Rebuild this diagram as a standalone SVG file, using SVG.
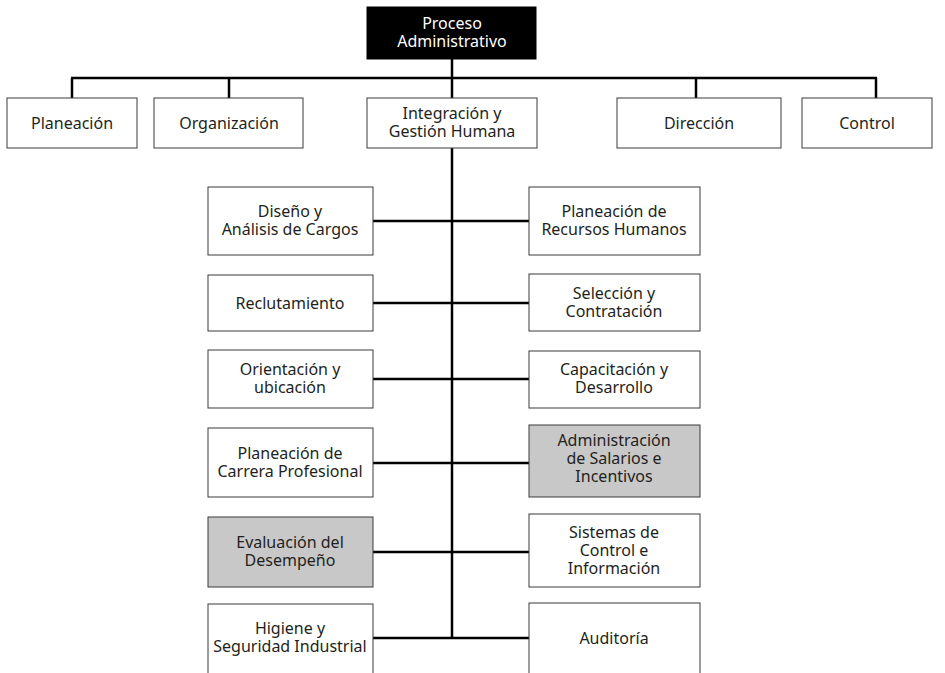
<svg xmlns="http://www.w3.org/2000/svg" width="945" height="673" viewBox="0 0 945 673">
  <style>
    .box { fill: #ffffff; stroke: #3a3a3a; stroke-width: 1; }
    .gray { fill: #c8c8c8; stroke: #3a3a3a; stroke-width: 1; }
    .root { fill: #000000; stroke: #000000; stroke-width: 1; }
    .lbl { font-family: "Noto Sans", "Open Sans", sans-serif; font-size: 16px; fill: #231f20; text-anchor: middle; }
    .lblw { font-family: "Noto Sans", "Open Sans", sans-serif; font-size: 16px; fill: #ffffff; text-anchor: middle; }
    .wire { stroke: #000000; stroke-width: 2.5; fill: none; }
  </style>
  <rect width="945" height="673" fill="#ffffff"/>

  <!-- connectors -->
  <g id="connectors">
    <line class="wire" x1="452" y1="59" x2="452" y2="98"/>
    <line class="wire" x1="71" y1="78" x2="877" y2="78"/>
    <line class="wire" x1="72" y1="78" x2="72" y2="98"/>
    <line class="wire" x1="229" y1="78" x2="229" y2="98"/>
    <line class="wire" x1="696" y1="78" x2="696" y2="98"/>
    <line class="wire" x1="876" y1="78" x2="876" y2="98"/>
    <line class="wire" x1="452" y1="148" x2="452" y2="638"/>
    <line class="wire" x1="373" y1="221" x2="529" y2="221"/>
    <line class="wire" x1="373" y1="303" x2="529" y2="303"/>
    <line class="wire" x1="373" y1="379" x2="529" y2="379"/>
    <line class="wire" x1="373" y1="463" x2="529" y2="463"/>
    <line class="wire" x1="373" y1="552" x2="529" y2="552"/>
    <line class="wire" x1="373" y1="638" x2="529" y2="638"/>
  </g>

  <g id="proceso">
    <rect class="root" x="367" y="7" width="169" height="52"/>
    <text class="lblw" x="452" y="29">Proceso</text>
    <text class="lblw" x="452" y="47">Administrativo</text>
  </g>

  <g id="planeacion">
    <rect class="box" x="7" y="98" width="130" height="50"/>
    <text class="lbl" x="72" y="129">Planeación</text>
  </g>
  <g id="organizacion">
    <rect class="box" x="154" y="98" width="149" height="50"/>
    <text class="lbl" x="229" y="129">Organización</text>
  </g>
  <g id="integracion">
    <rect class="box" x="367" y="98" width="170" height="50"/>
    <text class="lbl" x="452" y="119">Integración y</text>
    <text class="lbl" x="452" y="137">Gestión Humana</text>
  </g>
  <g id="direccion">
    <rect class="box" x="617" y="98" width="164" height="50"/>
    <text class="lbl" x="699" y="129">Dirección</text>
  </g>
  <g id="control">
    <rect class="box" x="802" y="98" width="130" height="50"/>
    <text class="lbl" x="867" y="129">Control</text>
  </g>

  <!-- left column -->
  <g id="diseno">
    <rect class="box" x="208" y="187" width="165" height="68"/>
    <text class="lbl" x="290" y="217">Diseño y</text>
    <text class="lbl" x="290" y="235">Análisis de Cargos</text>
  </g>
  <g id="reclutamiento">
    <rect class="box" x="208" y="275" width="165" height="56"/>
    <text class="lbl" x="290" y="309">Reclutamiento</text>
  </g>
  <g id="orientacion">
    <rect class="box" x="208" y="350" width="165" height="58"/>
    <text class="lbl" x="290" y="375">Orientación y</text>
    <text class="lbl" x="290" y="393">ubicación</text>
  </g>
  <g id="carrera">
    <rect class="box" x="208" y="428" width="165" height="69"/>
    <text class="lbl" x="290" y="459">Planeación de</text>
    <text class="lbl" x="290" y="477">Carrera Profesional</text>
  </g>
  <g id="evaluacion">
    <rect class="gray" x="208" y="517" width="165" height="70"/>
    <text class="lbl" x="290" y="548">Evaluación del</text>
    <text class="lbl" x="290" y="566">Desempeño</text>
  </g>
  <g id="higiene">
    <rect class="box" x="208" y="604" width="165" height="75"/>
    <text class="lbl" x="290" y="634">Higiene y</text>
    <text class="lbl" x="290" y="652">Seguridad Industrial</text>
  </g>

  <!-- right column -->
  <g id="recursos">
    <rect class="box" x="529" y="187" width="171" height="68"/>
    <text class="lbl" x="614" y="217">Planeación de</text>
    <text class="lbl" x="614" y="235">Recursos Humanos</text>
  </g>
  <g id="seleccion">
    <rect class="box" x="529" y="274" width="171" height="57"/>
    <text class="lbl" x="614" y="299">Selección y</text>
    <text class="lbl" x="614" y="317">Contratación</text>
  </g>
  <g id="capacitacion">
    <rect class="box" x="529" y="351" width="171" height="57"/>
    <text class="lbl" x="614" y="375">Capacitación y</text>
    <text class="lbl" x="614" y="393">Desarrollo</text>
  </g>
  <g id="salarios">
    <rect class="gray" x="529" y="425" width="171" height="72"/>
    <text class="lbl" x="614" y="446">Administración</text>
    <text class="lbl" x="614" y="464">de Salarios e</text>
    <text class="lbl" x="614" y="482">Incentivos</text>
  </g>
  <g id="sistemas">
    <rect class="box" x="529" y="514" width="171" height="73"/>
    <text class="lbl" x="614" y="538">Sistemas de</text>
    <text class="lbl" x="614" y="556">Control e</text>
    <text class="lbl" x="614" y="574">Información</text>
  </g>
  <g id="auditoria">
    <rect class="box" x="529" y="603" width="171" height="76"/>
    <text class="lbl" x="614" y="644">Auditoría</text>
  </g>
</svg>
